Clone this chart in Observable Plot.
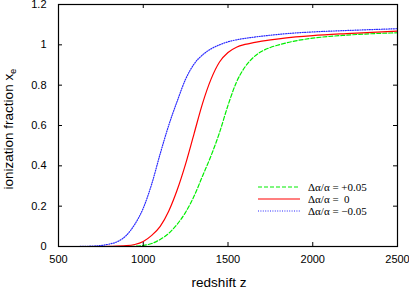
<!DOCTYPE html>
<html>
<head>
<meta charset="utf-8">
<script src="https://cdn.jsdelivr.net/npm/d3@7"></script>
<script src="https://cdn.jsdelivr.net/npm/@observablehq/plot@0.6"></script>
<style>
  html, body { margin: 0; padding: 0; background: #fff; }
  svg { display: block; }
</style>
</head>
<body>
<div id="chart"></div>
<script>
// Redshift grid (z) and ionization fraction for each series
const zBlue  = [500, 600, 700, 800, 850, 900, 950, 1000, 1050, 1100, 1150, 1200, 1250, 1300, 1350, 1400, 1450, 1500, 1550, 1600, 1700, 1800, 1900, 2000, 2200, 2500];
const xeBlue = [0, 0, 0.002, 0.012, 0.025, 0.055, 0.11, 0.19, 0.31, 0.46, 0.60, 0.72, 0.83, 0.905, 0.95, 0.98, 1.0, 1.015, 1.025, 1.032, 1.043, 1.052, 1.059, 1.064, 1.071, 1.08];

const zRed  = [500, 600, 700, 800, 900, 950, 1000, 1050, 1100, 1150, 1200, 1250, 1300, 1350, 1400, 1450, 1500, 1550, 1600, 1650, 1700, 1800, 1900, 2000, 2200, 2500];
const xeRed = [0, 0, 0, 0.001, 0.004, 0.01, 0.025, 0.055, 0.10, 0.175, 0.28, 0.41, 0.56, 0.71, 0.83, 0.915, 0.962, 0.988, 1.002, 1.011, 1.018, 1.03, 1.039, 1.046, 1.056, 1.068];

const zGreen  = [500, 700, 900, 950, 1000, 1050, 1100, 1150, 1200, 1250, 1300, 1350, 1400, 1450, 1500, 1550, 1600, 1650, 1700, 1750, 1800, 1900, 2000, 2200, 2500];
const xeGreen = [0, 0, 0, 0.001, 0.005, 0.015, 0.035, 0.065, 0.11, 0.17, 0.25, 0.35, 0.45, 0.565, 0.70, 0.815, 0.89, 0.938, 0.968, 0.987, 1.0, 1.02, 1.033, 1.048, 1.06];

const seriesLabels = ["Δα/α = +0.05", "Δα/α =  0", "Δα/α = −0.05"];
const seriesColors = ["#00ee00", "#ff0000", "#2a2aff"];
const seriesDash   = ["4,2", "none", "1,1.4"];

const xTicks = [500, 1000, 1500, 2000, 2500];
const yTicks = [0, 0.2, 0.4, 0.6, 0.8, 1, 1.2];

const toRows = (zs, vs) => zs.map((z, i) => ({z, xe: vs[i]}));
const dataSets = [toRows(zGreen, xeGreen), toRows(zRed, xeRed), toRows(zBlue, xeBlue)];

const W = 409, H = 290;
const mL = 58, mR = 12, mT = 4, mB = 44;
const fw = W - mL - mR, fh = H - mT - mB;
const tk = 4;

const lineMarks = dataSets.map((rows, i) => Plot.line(rows, {
  x: "z", y: "xe", stroke: seriesColors[i], strokeWidth: 1.2,
  strokeDasharray: seriesDash[i], curve: "monotone-x"
}));

const chart = Plot.plot({
  width: W, height: H,
  marginLeft: mL, marginRight: mR, marginTop: mT, marginBottom: mB,
  style: {fontFamily: "'Liberation Sans', Arial, sans-serif", fontSize: "11px", color: "#000", background: "#fff"},
  x: {domain: [500, 2500]},
  y: {domain: [0, 1.2]},
  marks: [
    ...lineMarks,
    // inward ticks, bottom/top
    Plot.tickX(xTicks, {x: d => d, insetTop: fh - tk, stroke: "#000"}),
    Plot.tickX(xTicks, {x: d => d, insetBottom: fh - tk, stroke: "#000"}),
    // inward ticks, left/right
    Plot.tickY(yTicks, {y: d => d, insetRight: fw - tk, stroke: "#000"}),
    Plot.tickY(yTicks, {y: d => d, insetLeft: fw - tk, stroke: "#000"}),
    Plot.axisX(xTicks, {tickSize: 0, tickPadding: 9, label: null, fontSize: 11, tickFormat: d => String(d)}),
    Plot.axisY(yTicks, {tickSize: 0, tickPadding: 12, label: null, fontSize: 11, tickFormat: d => String(d)}),
    Plot.frame({stroke: "#000", strokeWidth: 1.2})
  ]
});

const svg = d3.select(chart);
// axis titles
svg.append("text")
  .attr("x", 219).attr("y", 287)
  .attr("text-anchor", "middle")
  .attr("font-family", "'Liberation Sans', Arial, sans-serif")
  .attr("font-size", 13.5)
  .attr("fill", "#000")
  .text("redshift z");

const yl = svg.append("text")
  .attr("transform", "translate(13,129) rotate(-90)")
  .attr("text-anchor", "middle")
  .attr("font-family", "'Liberation Sans', Arial, sans-serif")
  .attr("font-size", 13.5)
  .attr("fill", "#000");
yl.append("tspan").text("ionization fraction x");
yl.append("tspan").attr("font-size", 9.5).attr("dy", 3).text("e");

// legend
const lg = svg.append("g");
seriesLabels.forEach((lab, i) => {
  const y = 187 + i * 12;
  lg.append("line")
    .attr("x1", 258).attr("x2", 300).attr("y1", y).attr("y2", y)
    .attr("stroke", seriesColors[i]).attr("stroke-width", 1.2)
    .attr("stroke-dasharray", seriesDash[i]);
  lg.append("text")
    .attr("x", 308).attr("y", y + 4)
    .attr("text-anchor", "start")
    .attr("font-family", "'Liberation Serif', 'Times New Roman', serif")
    .attr("font-size", 11)
    .attr("fill", "#000")
    .attr("xml:space", "preserve")
    .style("white-space", "pre")
    .text(lab);
});

document.getElementById("chart").appendChild(chart);
</script>
</body>
</html>
